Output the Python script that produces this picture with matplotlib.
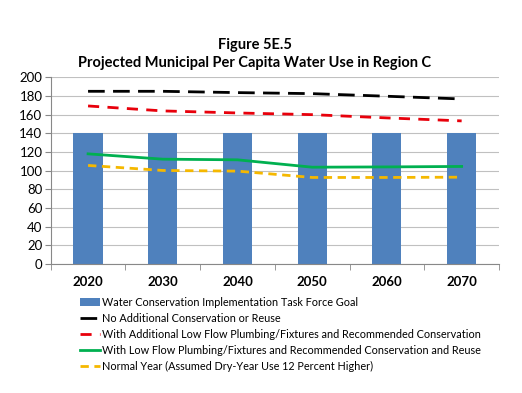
import matplotlib
matplotlib.use("Agg")
import matplotlib.pyplot as plt
import numpy as np

plt.rcParams['font.family'] = ['Lato', 'DejaVu Sans']

years = ["2020", "2030", "2040", "2050", "2060", "2070"]
goal = [140, 140, 140, 140, 140, 140]
no_additional = [185, 185, 183.6, 182.5, 179.7, 176.8]
with_additional = [169.3, 164, 161.8, 160, 156.5, 153.3]
with_reuse = [118, 112.3, 111.6, 103.7, 104, 104.5]
normal_year = [105.6, 100.2, 99.5, 92.7, 92.7, 93]

labels = [
    "Water Conservation Implementation Task Force Goal",
    "No Additional Conservation or Reuse",
    "With Additional Low Flow Plumbing/Fixtures and Recommended Conservation",
    "With Low Flow Plumbing/Fixtures and Recommended Conservation and Reuse",
    "Normal Year (Assumed Dry-Year Use 12 Percent Higher)",
]

fig = plt.figure(figsize=(5.22, 3.93), dpi=100)
ax = fig.add_axes([50.7/522, 1-264/393, (499-50.7)/522, (264-77.3)/393])

x = np.arange(len(years))
b = ax.bar(x, goal, width=0.39, color="#4f81bd", zorder=2, label=labels[0])
l1, = ax.plot(x, no_additional, color="black", lw=2, dashes=(6, 3), zorder=3, label=labels[1])
l2, = ax.plot(x, with_additional, color="#e8000b", lw=2, dashes=(4, 3), zorder=3, label=labels[2])
l3, = ax.plot(x, with_reuse, color="#00b050", lw=2, zorder=3, label=labels[3])
l4, = ax.plot(x, normal_year, color="#f5b800", lw=2, dashes=(3, 2), zorder=3, label=labels[4])

ax.set_xlim(-0.5, 5.5)
ax.set_ylim(0, 200)
ax.set_yticks(range(0, 201, 20))
ax.set_xticks(x)
ax.set_xticklabels(years, fontsize=9.5, fontweight="bold")
ax.set_xticks(np.arange(-0.5, 6, 1), minor=True)
ax.tick_params(axis="x", which="major", length=0, pad=9)
ax.tick_params(axis="x", which="minor", length=4, color="#888888")
ax.tick_params(axis="y", length=4, color="#888888", labelsize=9.5, pad=2)
ax.grid(axis="y", color="#c0c0c0", lw=0.8, zorder=0)
ax.set_axisbelow(True)
for s in ["top", "right"]:
    ax.spines[s].set_visible(False)
for s in ["left", "bottom"]:
    ax.spines[s].set_color("#888888")

fig.text(255/522, 1-45/393, "Figure 5E.5", ha="center", va="center", fontsize=10.5, fontweight="bold")
fig.text(255/522, 1-63/393, "Projected Municipal Per Capita Water Use in Region C", ha="center", va="center", fontsize=10.5, fontweight="bold")

leg = fig.legend([b, l1, l2, l3, l4], labels, loc="upper left", bbox_to_anchor=(80/522, 1-297/393),
                 frameon=False, fontsize=7.8, handlelength=1.8, handletextpad=0.2,
                 labelspacing=0.45, borderaxespad=0, borderpad=0)

fig.savefig("out.png", dpi=100)
